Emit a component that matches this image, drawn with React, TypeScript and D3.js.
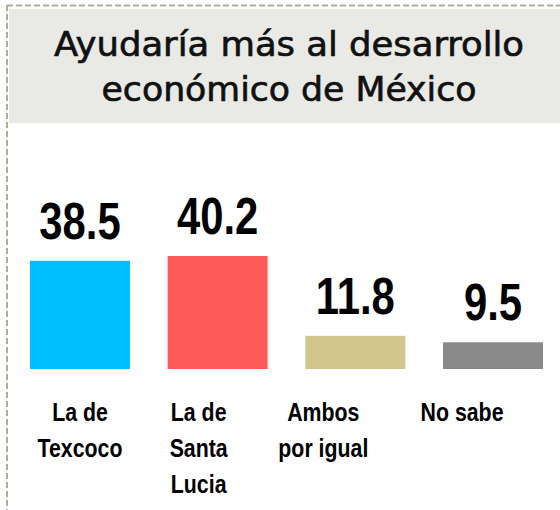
import React from 'react';
import * as d3 from 'd3';

// chart data
const categories = ['texcoco', 'santaLucia', 'ambos', 'noSabe'];
const values = [38.5, 40.2, 11.8, 9.5];
const labelLines = [
  ['La de', 'Texcoco'],
  ['La de', 'Santa', 'Lucia'],
  ['Ambos', 'por igual'],
  ['No sabe'],
];
const colors = ['#00BFFF', '#FF5A5A', '#D1C78C', '#898989'];
const titleLines = ['Ayudaría más al desarrollo', 'económico de México'];

const width = 560;
const height = 510;
const baseY = 369;
// no narrow font installed, so bold Liberation Sans is squeezed sideways
const barFont = '"Liberation Sans", Arial, sans-serif';
const squeeze = 0.82;
// labels below the bars are not centred exactly on the bars in the original
const labelShift = [0, -19, -32, -31];

const App = () => {
  const xScale = d3.scaleBand<string>()
    .domain(categories)
    .range([30, 543])
    .paddingInner(0.274)
    .paddingOuter(0);

  const yScale = d3.scaleLinear()
    .domain([0, 40.2])
    .range([baseY, 256]);

  return (
    <svg width={width} height={height} style={{ position: 'absolute', left: 0, top: 0 }}>
      <rect x={9} y={9} width={width - 9} height={114} fill="#E9EAE6" />
      <line x1={7} y1={5.5} x2={width} y2={5.5} stroke="#A9B19B" strokeWidth={2} strokeDasharray="6 3" />
      <line x1={7} y1={5} x2={7} y2={height} stroke="#A9B19B" strokeWidth={2} strokeDasharray="6 3" />
      {titleLines.map((t, i) => (
        <text
          key={t}
          x={289}
          y={56 + i * 45}
          textAnchor="middle"
          fontFamily='"DejaVu Sans Condensed", "DejaVu Sans", sans-serif'
          fontSize="34px"
          fill="#111"
          stroke="#111"
          strokeWidth={0.6}
          textLength={i === 0 ? 470 : 375}
          lengthAdjust="spacingAndGlyphs"
        >
          {t}
        </text>
      ))}
      {categories.map((c, i) => {
        const x = xScale(c) as number;
        const cx = x + xScale.bandwidth() / 2;
        return (
          <g key={c}>
            <rect
              x={x}
              y={yScale(values[i])}
              width={xScale.bandwidth()}
              height={baseY - yScale(values[i])}
              fill={colors[i]}
            />
            <text
              transform={`translate(${cx}, ${yScale(values[i]) - 22}) scale(${squeeze}, 1)`}
              textAnchor="middle"
              fontFamily={barFont}
              fontWeight="bold"
              fontSize="51px"
              fill="#000"
            >
              {values[i]}
            </text>
            {labelLines[i].map((l, j) => (
              <text
                key={l}
                transform={`translate(${cx + labelShift[i]}, ${421 + j * 36}) scale(${squeeze}, 1)`}
                textAnchor="middle"
                fontFamily={barFont}
                fontWeight="bold"
                fontSize="26px"
                fill="#000"
              >
                {l}
              </text>
            ))}
          </g>
        );
      })}
    </svg>
  );
};

export default App;
